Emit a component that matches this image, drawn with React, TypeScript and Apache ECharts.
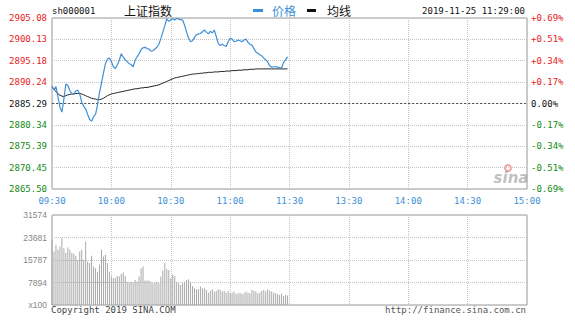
import React, { useEffect, useRef } from "react";
import * as echarts from "echarts";

const TIME_LABELS = ["09:30", "10:00", "10:30", "11:00", "11:30", "13:30", "14:00", "14:30", "15:00"];
const PRICE_TICKS = ["2865.50", "2870.45", "2875.39", "2880.34", "2885.29", "2890.24", "2895.18", "2900.13", "2905.08"];
const PCT_TICKS = ["-0.69%", "-0.51%", "-0.34%", "-0.17%", "0.00%", "+0.17%", "+0.34%", "+0.51%", "+0.69%"];
const VOL_TICKS = ["x100", "7894", "15787", "23681", "31574"];
const PREV_CLOSE = 2885.29;
const PRICE_MIN = 2865.5;
const PRICE_MAX = 2905.08;
const VOL_MAX = 31574;

const PRICE = [
  2889.2, 2888.5, 2889.2, 2886.8, 2884.5, 2883.3, 2886.3, 2889.8, 2889.5, 2888.3,
  2887.6, 2887.4, 2888.2, 2888.4, 2887.5, 2885.6, 2884.7, 2884.0, 2882.8, 2881.6,
  2881.2, 2882.2, 2882.8, 2885.0, 2887.8, 2890.0, 2892.3, 2894.5, 2895.6, 2895.8,
  2895.0, 2893.8, 2893.4, 2894.2, 2895.3, 2896.8, 2896.0, 2895.4, 2895.0, 2894.5,
  2894.3, 2893.8, 2895.3, 2896.1, 2896.8, 2897.8, 2898.2, 2898.3, 2898.0, 2897.9,
  2897.4, 2897.5, 2897.9, 2898.3, 2899.0, 2900.3, 2901.8, 2903.3, 2904.9, 2904.3,
  2904.6, 2904.9, 2904.6, 2905.0, 2904.8, 2904.7, 2904.6, 2903.4, 2901.8, 2900.4,
  2899.6, 2899.8, 2900.6, 2901.2, 2901.4, 2901.5, 2901.9, 2902.3, 2901.8, 2901.4,
  2902.0, 2901.6, 2902.3, 2900.8, 2899.2, 2898.7, 2899.0, 2898.7, 2898.5, 2899.6,
  2900.4, 2900.2, 2899.6, 2899.7, 2900.0, 2899.8, 2899.6, 2900.0, 2900.2, 2899.5,
  2899.0, 2898.8, 2898.0, 2897.2, 2896.9, 2896.6, 2896.3, 2895.8, 2895.4, 2894.9,
  2894.0, 2893.7, 2893.8, 2893.8, 2893.7, 2893.6, 2893.5, 2894.8, 2895.4, 2896.1,
];

const AVG = [
  2889.2, 2888.6, 2888.0, 2887.6, 2887.2, 2887.0, 2886.9, 2887.1, 2887.3, 2887.4,
  2887.5, 2887.5, 2887.6, 2887.6, 2887.6, 2887.5, 2887.3, 2887.1, 2886.9, 2886.7,
  2886.5, 2886.4, 2886.3, 2886.2, 2886.2, 2886.3, 2886.5, 2886.8, 2887.1, 2887.3,
  2887.5, 2887.6, 2887.7, 2887.8, 2887.9, 2888.0, 2888.1, 2888.2, 2888.3, 2888.4,
  2888.5, 2888.6, 2888.7, 2888.7, 2888.8, 2888.9, 2888.9, 2889.0, 2889.0, 2889.1,
  2889.2, 2889.3, 2889.4, 2889.5, 2889.6, 2889.8, 2890.0, 2890.2, 2890.4, 2890.6,
  2890.8, 2891.0, 2891.2, 2891.3, 2891.4, 2891.5, 2891.6, 2891.7, 2891.8, 2891.9,
  2892.0, 2892.1, 2892.1, 2892.2, 2892.2, 2892.3, 2892.3, 2892.4, 2892.4, 2892.5,
  2892.5, 2892.5, 2892.6, 2892.6, 2892.6, 2892.7, 2892.7, 2892.7, 2892.8, 2892.8,
  2892.8, 2892.9, 2892.9, 2892.9, 2893.0, 2893.0, 2893.0, 2893.1, 2893.1, 2893.1,
  2893.2, 2893.2, 2893.2, 2893.3, 2893.3, 2893.3, 2893.3, 2893.3, 2893.3, 2893.3,
  2893.3, 2893.3, 2893.3, 2893.3, 2893.3, 2893.3, 2893.3, 2893.3, 2893.3, 2893.3,
];

const VOLUME = [
  22900, 18800, 21100, 19400, 20500, 23500, 19900, 18200, 20200, 19400,
  18200, 18000, 17300, 15800, 18800, 19400, 15800, 22300, 15300, 14700,
  17300, 13500, 12900, 11700, 14100, 19400, 17000, 17600, 14700, 11700,
  10000, 9400, 9600, 10200, 10000, 10900, 11400, 10200, 8200, 7900,
  8100, 7900, 8800, 8200, 10000, 12900, 13500, 8600, 8600, 8600,
  8200, 7600, 7900, 8200, 7600, 10000, 12100, 14700, 12600, 12300,
  9400, 10600, 10200, 8200, 7600, 7000, 7600, 8200, 8800, 9000,
  8200, 6700, 5900, 5500, 5500, 6500, 5900, 5900, 5300, 4300,
  5000, 5500, 4700, 5000, 5500, 5300, 4700, 5000, 4300, 5000,
  4100, 4300, 4700, 3900, 4100, 4300, 3900, 4100, 4700, 4300,
  4100, 5300, 5000, 4700, 4100, 4300, 5000, 5300, 4700, 5500,
  5000, 4700, 4300, 4100, 3900, 3500, 4100, 3200, 3500, 3300,
];

const TITLE_CODE = "sh000001";
const TITLE_NAME = "上证指数";
const STAMP = "2019-11-25 11:29:00";

export default function App() {
  const ref = useRef<HTMLDivElement>(null);
  useEffect(() => {
    if (!ref.current) return;
    const chart = echarts.init(ref.current, null, { renderer: "svg" });
    const mono = '"DejaVu Sans Mono", monospace';
    const cjk = '"Noto Sans CJK SC", sans-serif';
    const priceInterval = (PRICE_MAX - PRICE_MIN) / 8;
    const tickIdx = (v: number) => Math.round((v - PRICE_MIN) / priceInterval);
    const tickColor = (v: number) => {
      const i = tickIdx(v);
      return i > 4 ? "#e8211d" : i < 4 ? "#138a13" : "#111";
    };
    const blue = "#3b8fd6";
    const gridLine = { show: true, lineStyle: { color: "#c4c4c4", type: "dotted", width: 1 } };

    const xCommon = {
      type: "value",
      min: 0,
      max: 240,
      interval: 30,
      axisLine: { show: false },
      axisTick: { show: false },
      splitLine: gridLine,
    };

    chart.setOption({
      animation: false,
      grid: [
        { left: 52, top: 18, width: 475, height: 171, show: true, borderColor: "#999", borderWidth: 1, backgroundColor: "transparent" },
        { left: 52, top: 215, width: 475, height: 90, show: true, borderColor: "#999", borderWidth: 1, backgroundColor: "transparent" },
      ],
      xAxis: [
        {
          ...xCommon,
          gridIndex: 0,
          axisLabel: {
            show: true,
            margin: 7,
            color: blue,
            fontFamily: mono,
            fontSize: 9,
            showMinLabel: true,
            showMaxLabel: true,
            formatter: (v: number) => TIME_LABELS[Math.round(v / 30)] ?? "",
          },
        },
        { ...xCommon, gridIndex: 1, axisLabel: { show: false } },
      ],
      yAxis: [
        {
          type: "value",
          gridIndex: 0,
          min: PRICE_MIN,
          max: PRICE_MAX,
          interval: priceInterval,
          axisLine: { show: false },
          axisTick: { show: false },
          splitLine: gridLine,
          axisLabel: {
            margin: 5,
            fontFamily: mono,
            fontSize: 9,
            color: (v: any) => tickColor(Number(v)),
            formatter: (v: number) => PRICE_TICKS[tickIdx(v)] ?? "",
          },
        },
        {
          type: "value",
          gridIndex: 0,
          position: "right",
          min: PRICE_MIN,
          max: PRICE_MAX,
          interval: priceInterval,
          axisLine: { show: false },
          axisTick: { show: false },
          splitLine: { show: false },
          axisLabel: {
            margin: 4,
            fontFamily: mono,
            fontSize: 9,
            color: (v: any) => tickColor(Number(v)),
            formatter: (v: number) => PCT_TICKS[tickIdx(v)] ?? "",
          },
        },
        {
          type: "value",
          gridIndex: 1,
          min: 0,
          max: VOL_MAX,
          interval: VOL_MAX / 4,
          axisLine: { show: false },
          axisTick: { show: false },
          splitLine: gridLine,
          axisLabel: {
            margin: 5,
            fontFamily: '"Liberation Sans", sans-serif',
            fontSize: 8.5,
            color: "#888",
            showMinLabel: true,
            showMaxLabel: true,
            formatter: (v: number) => VOL_TICKS[Math.round(v / (VOL_MAX / 4))] ?? "",
          },
        },
      ],
      series: [
        {
          name: "均线",
          type: "line",
          xAxisIndex: 0,
          yAxisIndex: 0,
          data: AVG.map((v, i) => [i, v]),
          showSymbol: false,
          lineStyle: { color: "#222", width: 1 },
          silent: true,
          z: 3,
        },
        {
          name: "价格",
          type: "line",
          xAxisIndex: 0,
          yAxisIndex: 0,
          data: PRICE.map((v, i) => [i, v]),
          showSymbol: false,
          lineStyle: { color: "#3f8fd8", width: 1.2 },
          silent: true,
          z: 4,
          markLine: {
            silent: true,
            symbol: ["none", "none"],
            label: { show: false },
            lineStyle: { color: "#555", type: [2, 2], width: 1 },
            data: [{ yAxis: PREV_CLOSE }],
            z: 2,
          },
        },
        {
          name: "成交量",
          type: "bar",
          xAxisIndex: 1,
          yAxisIndex: 2,
          data: VOLUME.map((v, i) => [i, v]),
          barWidth: 1,
          itemStyle: { color: "#a9a9a9" },
          silent: true,
        },
      ],
      graphic: [
        { type: "text", x: 52, y: 11, style: { text: TITLE_CODE, fill: "#111", font: `9px ${mono}`, verticalAlign: "middle", textVerticalAlign: "middle" } },
        { type: "text", x: 124, y: 10, style: { text: TITLE_NAME, fill: "#111", font: `12px ${cjk}`, verticalAlign: "middle", textVerticalAlign: "middle" } },
        { type: "rect", shape: { x: 253, y: 9, width: 10, height: 3 }, style: { fill: blue } },
        { type: "text", x: 272, y: 10, style: { text: "价格", fill: blue, font: `12px ${cjk}`, verticalAlign: "middle", textVerticalAlign: "middle" } },
        { type: "rect", shape: { x: 307, y: 9, width: 9, height: 3 }, style: { fill: "#111" } },
        { type: "text", x: 327, y: 10, style: { text: "均线", fill: "#111", font: `12px ${cjk}`, verticalAlign: "middle", textVerticalAlign: "middle" } },
        { type: "text", x: 525, y: 11, style: { text: STAMP, fill: "#111", font: `9px ${mono}`, align: "right", textAlign: "right", verticalAlign: "middle", textVerticalAlign: "middle" } },
        { type: "text", x: 51, y: 310, style: { text: "Copyright 2019 SINA.COM", fill: "#444", font: `9px ${mono}`, verticalAlign: "middle", textVerticalAlign: "middle" } },
        { type: "text", x: 526, y: 310, style: { text: "http://finance.sina.com.cn", fill: "#555", font: `9px ${mono}`, align: "right", textAlign: "right", verticalAlign: "middle", textVerticalAlign: "middle" } },
        { type: "ring", shape: { cx: 508, cy: 168, r: 4, r0: 2 }, style: { fill: "rgba(225,90,90,0.55)" } },
        { type: "text", x: 511, y: 178, style: { text: "sina", fill: "rgba(150,150,150,0.6)", font: `italic bold 15px "DejaVu Sans", sans-serif`, align: "center", textAlign: "center", verticalAlign: "middle", textVerticalAlign: "middle" } },
      ],
    });
    return () => chart.dispose();
  }, []);
  return <div ref={ref} style={{ position: "absolute", left: 0, top: 0, width: 575, height: 322 }} />;
}
